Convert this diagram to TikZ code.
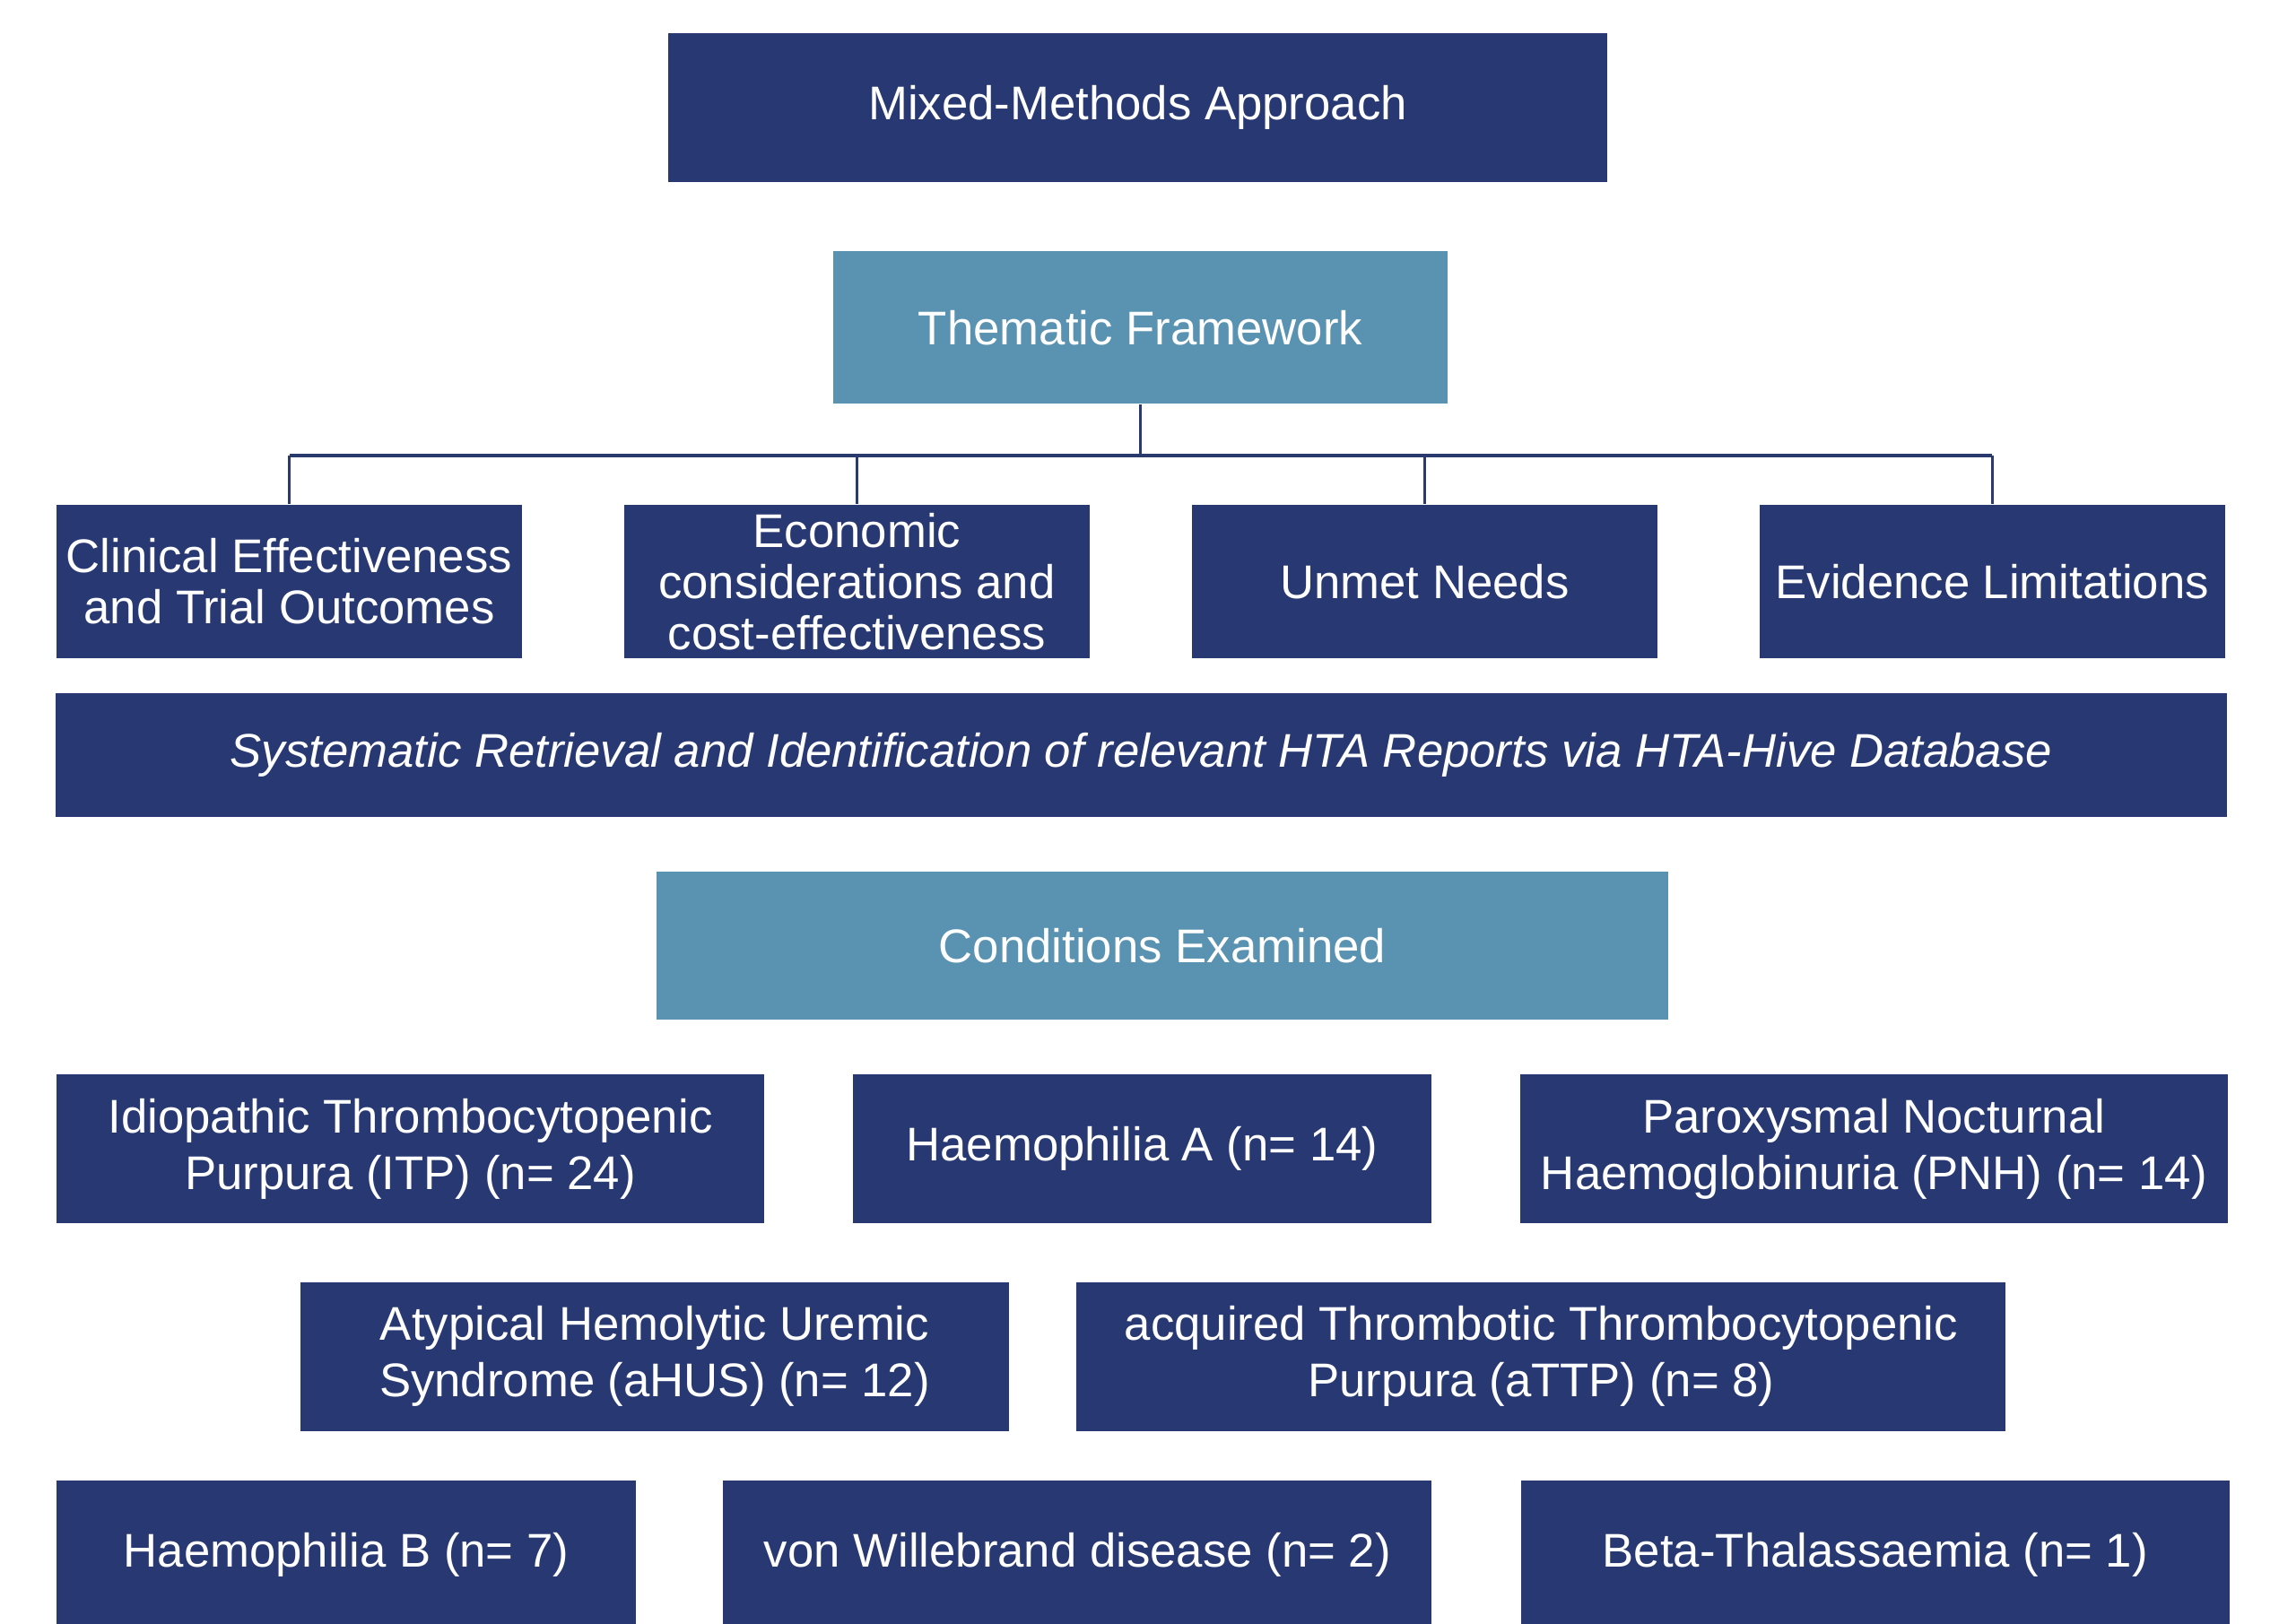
\documentclass[tikz,border=0pt]{standalone}
\usepackage{fontspec}
\setmainfont{Liberation Sans}
\usetikzlibrary{positioning}
\definecolor{NavyA}{HTML}{283872}
\definecolor{TealA}{HTML}{5A93B1}
\definecolor{LineA}{HTML}{2A3A6E}
\tikzset{
  box/.style={rectangle, align=center, text=white, font=\fontsize{15}{16.2}\selectfont, inner sep=2pt},
  navy/.style={fill=NavyA},
  teal/.style={fill=TealA},
  theme/.style={box, navy, minimum width=5.19cm, minimum height=1.71cm},
  cond/.style={box, navy, font=\fontsize{15}{18}\selectfont, minimum height=1.66cm},
  link/.style={draw=LineA, line width=0.8pt}
}

\begin{document}
\begin{tikzpicture}[node distance=0.76cm and 1.125cm]
  \useasboundingbox (0,0) rectangle (25.41,-18.11);
  \node[box,navy,minimum width=10.47cm,minimum height=1.66cm] (mixed) at (12.685,-1.20) {Mixed-Methods Approach};
  \node[box,teal,below=0.76cm of mixed,xshift=0.03cm,minimum width=6.85cm,minimum height=1.70cm] (frame) {Thematic Framework};

  % themes
  \node[theme] (clin) at (3.225,-6.485) {Clinical Effectiveness\\and Trial Outcomes};
  \node[theme,right=of clin] (econ) {Economic\\considerations and\\cost-effectiveness};
  \node[theme,right=of econ] (unmet) {Unmet Needs};
  \node[theme,right=of unmet] (evid) {Evidence Limitations};

  \node[box,navy,minimum width=24.21cm,minimum height=1.38cm] (retr) at (12.725,-8.42) {\itshape Systematic Retrieval and Identification of relevant HTA Reports via HTA-Hive Database};
  \node[box,teal,below=0.60cm of retr,xshift=0.235cm,minimum width=11.28cm,minimum height=1.65cm] (conds) {Conditions Examined};

  % conditions
  \node[cond,minimum width=7.89cm] (itp) at (4.575,-12.81) {Idiopathic Thrombocytopenic\\Purpura (ITP) (n= 24)};
  \node[cond,minimum width=6.45cm,right=0.975cm of itp] (hema) {Haemophilia A (n= 14)};
  \node[cond,minimum width=7.89cm,right=0.975cm of hema] (pnh) {Paroxysmal Nocturnal\\Haemoglobinuria (PNH) (n= 14)};
  \node[cond,minimum width=7.90cm] (ahus) at (7.30,-15.125) {Atypical Hemolytic Uremic\\Syndrome (aHUS) (n= 12)};
  \node[cond,minimum width=10.36cm,right=0.74cm of ahus] (attp) {acquired Thrombotic Thrombocytopenic\\Purpura (aTTP) (n= 8)};
  \node[cond,minimum width=6.46cm] (hemb) at (3.86,-17.34) {Haemophilia B (n= 7)};
  \node[cond,minimum width=7.90cm,right=0.96cm of hemb] (vwd) {von Willebrand disease (n= 2)};
  \node[cond,minimum width=7.90cm,right=0.98cm of vwd] (beta) {Beta-Thalassaemia (n= 1)};

  % tree
  \path (frame.south) ++(0,-0.57) coordinate (bus);
  \draw[link] (frame) -- (bus);
  \draw[link,line width=1.1pt] (clin |- bus) -- (evid |- bus);
  \foreach \t in {clin,econ,unmet,evid}
    \draw[link] (\t |- bus) -- (\t);
\end{tikzpicture}
\end{document}
